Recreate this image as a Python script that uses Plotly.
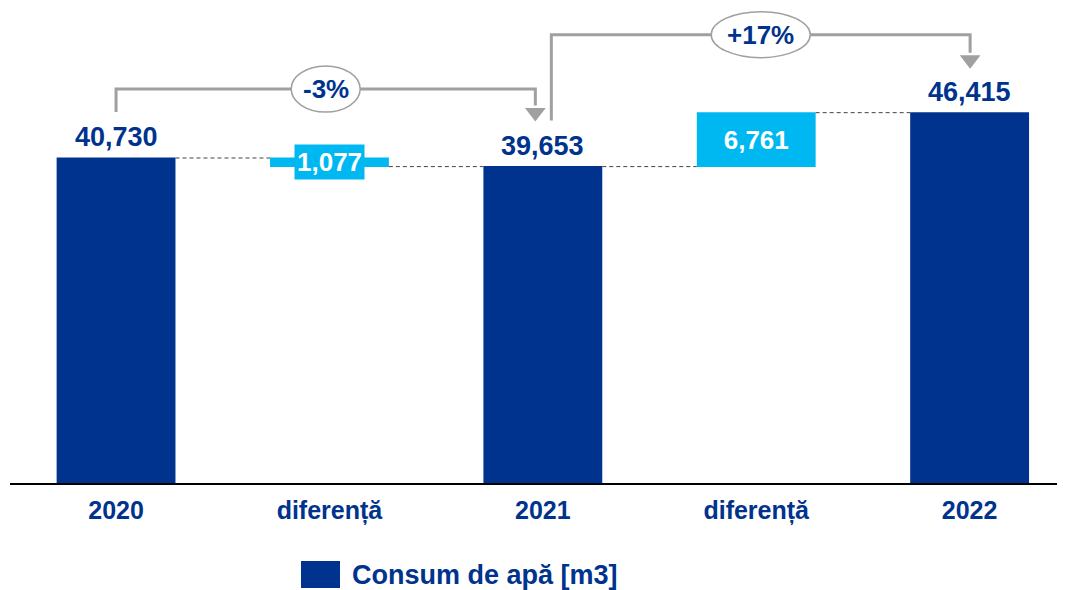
import plotly.graph_objects as go

# ---------------- data ----------------
categories = ["2020", "diferență", "2021", "diferență", "2022"]
measures = ["absolute", "relative", "total", "relative", "total"]
values = [40730, -1077, 39653, 6761, 46415]
legend_name = "Consum de apă [m3]"

DARK = "#00338D"
LIGHT = "#00B8F1"
GRAY = "#A0A0A0"
FONT = "Liberation Sans, Arial, sans-serif"

OFF = 8  # page body margin
W, H = 1065 - OFF, 590 - OFF
ML, MR, MT, MB = 10 - OFF, 0, 0, 107
YMAX = 59530
X0, X1 = -0.497, 4.447
plot_w = W - ML - MR
plot_h = H - MT - MB


def dy(px):
    return px * YMAX / plot_h


def dx(px):
    return px * (X1 - X0) / plot_w


def paper_x(page_px):
    return (page_px - OFF - ML) / plot_w


def paper_y(page_px):
    return (plot_h - (page_px - OFF - MT)) / plot_h


xs = list(range(len(categories)))
labels = [f"{abs(v):,}" for v in values]
textpos = ["none", "none", "none", "inside", "none"]

fig = go.Figure()
fig.add_trace(go.Waterfall(
    x=xs, y=values, measure=measures,
    width=0.557,
    text=labels, textposition=textpos,
    insidetextfont=dict(family=FONT, size=26, color="white", weight="bold"),
    insidetextanchor="middle",
    cliponaxis=False,
    increasing=dict(marker=dict(color=LIGHT)),
    decreasing=dict(marker=dict(color=LIGHT)),
    totals=dict(marker=dict(color=DARK)),
    connector=dict(mode="between", line=dict(color="#444444", width=1, dash="4px,3px")),
    showlegend=False,
    hoverinfo="skip",
))

v0, d1, v1, d2, v2 = values
# value labels above the total bars
for xi, val, lab in [(0, v0, labels[0]), (2, v1, labels[2]), (4, v2, labels[4])]:
    fig.add_annotation(x=xi, y=val + dy(21), text=f"<b>{lab}</b>", showarrow=False,
                       font=dict(family=FONT, size=27, color=DARK), yanchor="middle")

# label of the small decrease bar
fig.add_annotation(x=1, y=v0 + d1 / 2, text=f"<b>{labels[1]}</b>", showarrow=False,
                   font=dict(family=FONT, size=26, color="white"),
                   bgcolor=LIGHT, borderpad=2, yanchor="middle")

# percentage change brackets
pct1 = (v1 - v0) / v0 * 100
pct2 = (v2 - v1) / v1 * 100

brackets = [
    dict(xa=0, ya=v0 + dy(46), yh=v0 + dy(69), xb=2 - dx(7.5), tip=v1 + dy(47),
         txt=f"{pct1:+.0f}%", ew=69),
    dict(xa=2 + dx(8.5), ya=v1 + dy(46), yh=v2 + dy(78), xb=4 + dx(0.5), tip=v2 + dy(46),
         txt=f"{pct2:+.0f}%", ew=99),
]
for b in brackets:
    head = dy(14)
    fig.add_shape(type="path",
                  path=f"M {b['xa']},{b['ya']} V {b['yh']} H {b['xb']} V {b['tip'] + head}",
                  line=dict(color=GRAY, width=3), layer="above")
    fig.add_trace(go.Scatter(x=[b['xb']], y=[b['tip'] + dy(7)], mode="markers",
                             marker=dict(symbol="triangle-down", size=18, color=GRAY),
                             showlegend=False, hoverinfo="skip", cliponaxis=False))
    xm = (b['xa'] + b['xb']) / 2
    fig.add_shape(type="circle", x0=xm - dx(b['ew'] / 2), x1=xm + dx(b['ew'] / 2),
                  y0=b['yh'] - dy(23), y1=b['yh'] + dy(23),
                  fillcolor="white", line=dict(color=GRAY, width=1.5), layer="above")
    fig.add_annotation(x=xm, y=b['yh'], text=f"<b>{b['txt']}</b>", showarrow=False,
                       font=dict(family=FONT, size=26, color=DARK), yanchor="middle")

# manual legend
fig.add_shape(type="rect", xref="paper", yref="paper",
              x0=paper_x(301), x1=paper_x(340),
              y0=paper_y(561), y1=paper_y(588),
              fillcolor=DARK, line=dict(width=0))
fig.add_annotation(xref="paper", yref="paper", x=paper_x(350), y=paper_y(575),
                   xanchor="left", yanchor="middle", showarrow=False,
                   text=f"<b>{legend_name}</b>", font=dict(family=FONT, size=27, color=DARK))

fig.update_layout(
    width=W, height=H,
    margin=dict(l=ML, r=MR, t=MT, b=MB),
    plot_bgcolor="white", paper_bgcolor="white",
    showlegend=False,
    xaxis=dict(range=[X0, X1], tickvals=xs, ticktext=[f"<b>{c}</b>" for c in categories],
               tickfont=dict(family=FONT, size=25, color=DARK),
               showline=True, linecolor="black", linewidth=2, showgrid=False, zeroline=False,
               ticks="", ticklabelstandoff=4),
    yaxis=dict(range=[0, YMAX], visible=False, showgrid=False, zeroline=False),
)

fig.write_html("out.html")
